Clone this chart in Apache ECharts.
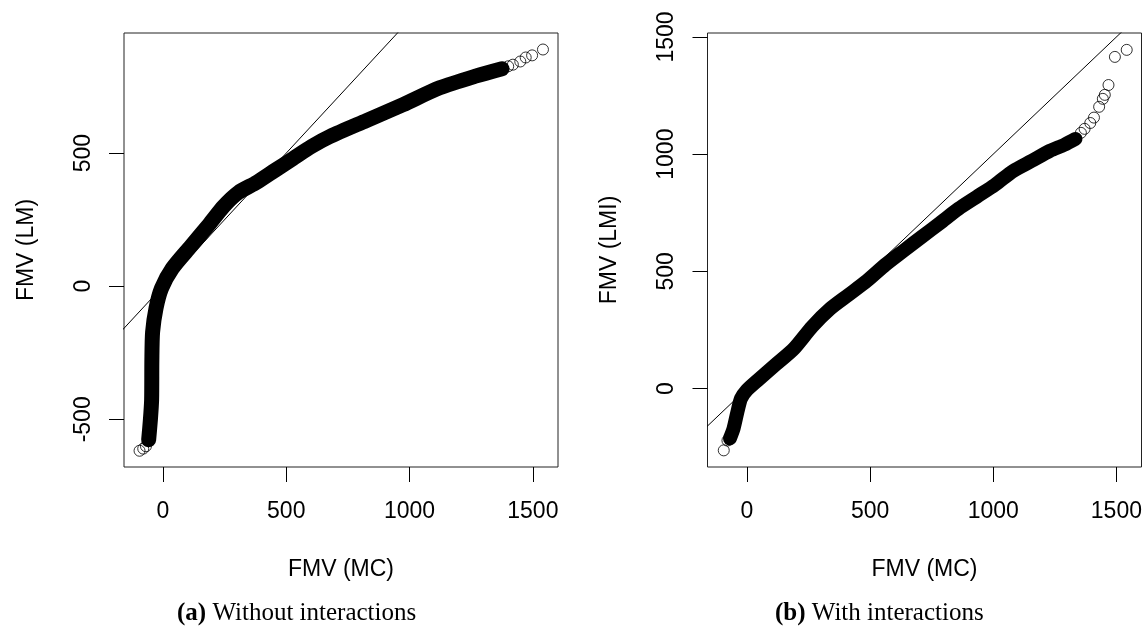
<!DOCTYPE html>
<html>
<head>
<meta charset="utf-8">
<title>FMV QQ</title>
<script src="https://cdn.jsdelivr.net/npm/echarts@6/dist/echarts.min.js"></script>
<style>
  html, body { margin: 0; padding: 0; background: #fff; }
  #main { width: 1148px; height: 628px; }
</style>
</head>
<body>
<div id="main"></div>
<script>
// tick labels
var xTicks = [0, 500, 1000, 1500];
var yTicksA = [-500, 0, 500];
var yTicksB = [0, 500, 1000, 1500];

// (a) without interactions: dense band + sparse tail points
var bandA_mc = [-58, -51, -46, -45, -42, -28, -6, 38, 113, 187, 246, 306, 380, 454, 528, 603, 677, 825, 974, 1122, 1271, 1375];
var bandA_lm = [-577, -502, -427, -277, -172, -82, -8, 67, 150, 232, 300, 352, 390, 435, 480, 525, 562, 622, 682, 745, 790, 817];
var tailA_mc = [-95, -80, -69, 1400, 1419, 1449, 1471, 1497, 1541];
var tailA_lm = [-618, -610, -601, 826, 832, 844, 859, 867, 889];

// (b) with interactions
var bandB_mc = [-69, -54, -39, -24, -2, 43, 117, 191, 265, 339, 413, 488, 562, 636, 711, 785, 859, 933, 1007, 1082, 1156, 1230, 1289, 1334];
var bandB_lmi = [-213, -170, -102, -43, -9, 34, 102, 170, 264, 341, 400, 460, 528, 588, 648, 707, 767, 818, 869, 929, 971, 1014, 1040, 1065];
var tailB_mc = [-94, -79, 1356, 1371, 1394, 1409, 1430, 1445, 1453, 1468, 1494, 1542];
var tailB_lmi = [-264, -222, 1091, 1108, 1133, 1156, 1202, 1236, 1253, 1295, 1415, 1445];

// y = x reference line
var refLine = [-800, 2000];

var zip = function (xs, ys) {
    return xs.map(function (x, i) { return [x, ys[i]]; });
};

var sansFont = '"Liberation Sans", Arial, sans-serif';
var serifFont = '"Liberation Serif", "DejaVu Serif", serif';
var plain = function (v) { return String(v); };

var makeX = function (idx, min, max) {
    return {
        type: 'value', gridIndex: idx, min: min, max: max,
        name: 'FMV (MC)', nameLocation: 'middle', nameGap: 91,
        nameTextStyle: { fontFamily: sansFont, fontSize: 23, color: '#000' },
        axisLine: { show: false, onZero: false },
        splitLine: { show: false },
        axisTick: { inside: false, length: 15, customValues: xTicks, lineStyle: { color: '#000', width: 1 } },
        axisLabel: { customValues: xTicks, formatter: plain, margin: 33, fontFamily: sansFont, fontSize: 23, color: '#000' }
    };
};

var makeY = function (idx, min, max, ticks, title) {
    return {
        type: 'value', gridIndex: idx, min: min, max: max,
        name: title, nameLocation: 'middle', nameGap: 86,
        nameTextStyle: { fontFamily: sansFont, fontSize: 23, color: '#000' },
        axisLine: { show: false, onZero: false },
        splitLine: { show: false },
        axisTick: { inside: false, length: 15, customValues: ticks, lineStyle: { color: '#000', width: 1 } },
        axisLabel: { customValues: ticks, formatter: plain, rotate: 90, margin: 29, fontFamily: sansFont, fontSize: 23, color: '#000' }
    };
};

var bandSeries = function (idx, data, w) {
    return {
        type: 'line', xAxisIndex: idx, yAxisIndex: idx, data: data,
        symbol: 'none', smooth: 0.25, silent: true, animation: false,
        lineStyle: { color: '#000', width: w, cap: 'round', join: 'round' }
    };
};

var tailSeries = function (idx, data) {
    return {
        type: 'scatter', xAxisIndex: idx, yAxisIndex: idx, data: data,
        symbol: 'circle', symbolSize: 11, silent: true, animation: false,
        itemStyle: { color: 'rgba(0,0,0,0)', borderColor: '#000', borderWidth: 1 }
    };
};

var refSeries = function (idx) {
    return {
        type: 'line', xAxisIndex: idx, yAxisIndex: idx, data: zip(refLine, refLine),
        symbol: 'none', silent: true, animation: false, clip: true,
        lineStyle: { color: '#000', width: 1 }
    };
};

// panel caption: bold tag + regular text
var caption = function (tag, text, left) {
    return {
        type: 'text', left: left, top: 601, silent: true,
        style: {
            text: '{b|' + tag + '} ' + text,
            font: '25px ' + serifFont, fill: '#000',
            rich: { b: { fontWeight: 'bold', fontFamily: serifFont, fontSize: 25 } }
        }
    };
};

var chart = echarts.init(document.getElementById('main'));

var option = {
    backgroundColor: '#fff',
    animation: false,
    grid: [
        { left: 124, top: 33, width: 434, height: 434, show: true, borderColor: '#222', borderWidth: 1 },
        { left: 707.5, top: 33, width: 434, height: 434, show: true, borderColor: '#222', borderWidth: 1 }
    ],
    xAxis: [makeX(0, -158, 1602), makeX(1, -160, 1602)],
    yAxis: [makeY(0, -679, 951, yTicksA, 'FMV (LM)'), makeY(1, -335, 1517, yTicksB, 'FMV (LMI)')],
    series: [
        refSeries(0),
        bandSeries(0, zip(bandA_mc, bandA_lm), 15),
        tailSeries(0, zip(tailA_mc, tailA_lm)),
        refSeries(1),
        bandSeries(1, zip(bandB_mc, bandB_lmi), 14),
        tailSeries(1, zip(tailB_mc, tailB_lmi))
    ],
    graphic: [
        caption('(a)', 'Without interactions', 177),
        caption('(b)', 'With interactions', 775)
    ]
};

chart.setOption(option);
</script>
</body>
</html>
